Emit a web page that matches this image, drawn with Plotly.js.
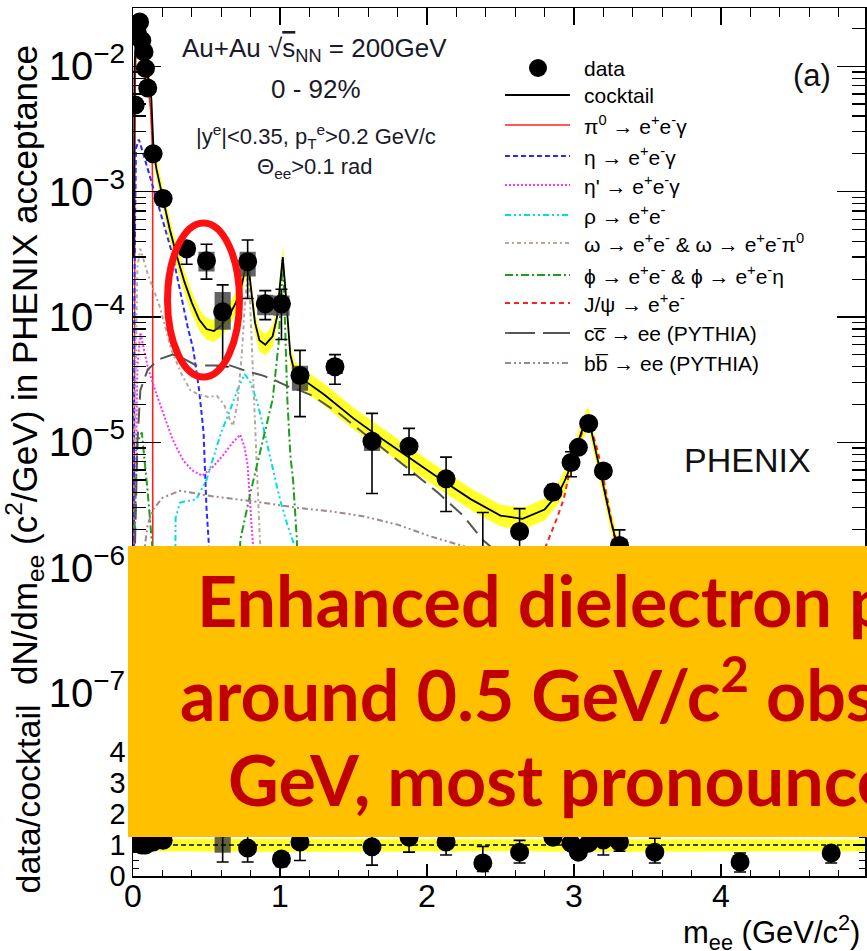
<!DOCTYPE html>
<html><head><meta charset="utf-8">
<script src="https://cdn.plot.ly/plotly-3.0.1.min.js"></script>
<style>html,body{margin:0;padding:0;background:#fff;overflow:hidden}</style></head>
<body><div id="chart" style="width:867px;height:951px"></div>
<script>
// ---------------- data ----------------
const dataX  = [0.015,0.03,0.045,0.06,0.075,0.085,0.10,0.137,0.205,0.365,0.50,0.61,0.78,0.90,1.01,1.136,1.374,1.626,1.878,2.13,2.38,2.63,2.857,2.98,3.03,3.10,3.20,3.31,3.55,4.13,4.75];
const dataY  = [4.9e-3,1.84e-2,2.25e-2,1.6e-2,1.3e-2,9.6e-3,6.7e-3,2.0e-3,8.8e-4,3.5e-4,2.8e-4,1.1e-4,2.75e-4,1.27e-4,1.27e-4,3.4e-5,4.0e-5,1.02e-5,9.3e-6,5.1e-6,1.2e-6,1.94e-6,4.0e-6,6.9e-6,9.1e-6,1.41e-5,5.9e-6,1.5e-6,3.7e-7,1.0e-7,6.6e-8];
const dataHi = [5.0e-3,1.87e-2,2.29e-2,1.63e-2,1.32e-2,9.8e-3,6.85e-3,2.05e-3,9.1e-4,3.8e-4,3.8e-4,1.8e-4,4.1e-4,1.62e-4,1.66e-4,5.4e-5,5.0e-5,1.7e-5,1.29e-5,7.6e-6,2.75e-6,2.95e-6,4.6e-6,8.4e-6,9.8e-6,1.5e-5,6.4e-6,2.0e-6,4.5e-7,1.4e-7,8e-8];
const dataLo = [4.8e-3,1.81e-2,2.21e-2,1.57e-2,1.28e-2,9.4e-3,6.55e-3,1.95e-3,8.5e-4,2.63e-4,2.0e-4,4.0e-5,1.4e-4,9.5e-5,6.6e-5,1.6e-5,2.9e-5,3.9e-6,5.5e-6,2.8e-6,1e-7,1.0e-6,3.5e-6,5.3e-6,8.4e-6,1.32e-5,5.4e-6,1.0e-6,2.9e-7,6e-8,5e-8];
const dataSysHi = [5.1e-3,1.9e-2,2.33e-2,1.66e-2,1.35e-2,1.0e-2,7.0e-3,2.1e-3,9.3e-4,3.9e-4,3.3e-4,1.58e-4,3.3e-4,1.5e-4,1.48e-4,4.07e-5,4.5e-5,1.12e-5,1.0e-5,5.5e-6,1.4e-6,2.1e-6,4.3e-6,7.4e-6,9.6e-6,1.48e-5,6.3e-6,1.7e-6,4.1e-7,1.15e-7,7.3e-8];
const dataSysLo = [4.7e-3,1.78e-2,2.17e-2,1.54e-2,1.25e-2,9.2e-3,6.4e-3,1.9e-3,8.3e-4,3.1e-4,2.3e-4,7.9e-5,2.1e-4,1.03e-4,1.02e-4,2.57e-5,3.5e-5,8.5e-6,8.5e-6,4.6e-6,1.0e-6,1.75e-6,3.7e-6,6.4e-6,8.6e-6,1.34e-5,5.5e-6,1.3e-6,3.3e-7,8.5e-8,6e-8];

const ratioY  = [1.05,1.1,1.05,1.0,1.05,1.0,1.05,1.1,1.15,1.8,3.5,1.55,0.9,2.1,0.55,1.1,2.0,0.94,1.25,1.1,0.42,0.77,1.25,1.06,0.77,1.06,1.16,1.1,0.77,0.45,0.74];
const ratioHi = [1.1,1.15,1.1,1.05,1.1,1.05,1.1,1.15,1.2,1.95,4.6,2.5,1.35,2.7,0.72,1.7,2.4,1.55,1.75,1.6,0.95,1.15,1.4,1.25,0.85,1.12,1.4,1.4,1.22,0.74,0.94];
const ratioLo = [1.0,1.05,1.0,0.95,1.0,0.95,1.0,1.05,1.1,1.38,2.5,0.45,0.45,1.55,0.3,0.5,1.45,0.35,0.77,0.68,0.15,0.42,1.1,0.85,0.7,1.0,0.68,0.8,0.42,0.13,0.42];
const ratioSysHi = [1.08,1.13,1.08,1.03,1.08,1.03,1.08,1.13,1.18,2.0,4.1,2.3,1.05,2.4,0.62,1.3,2.2,1.1,1.35,1.2,0.5,0.85,1.3,1.1,0.8,1.1,1.2,1.15,0.82,0.5,0.8];
const ratioSysLo = [1.02,1.07,1.02,0.97,1.02,0.97,1.02,1.07,1.12,1.6,2.9,0.75,0.75,1.8,0.48,0.9,1.8,0.8,1.15,1.0,0.34,0.7,1.2,1.02,0.74,1.02,1.1,1.05,0.72,0.4,0.68];

const cocktailX = [0.005,0.01,0.02,0.03,0.05,0.07,0.09,0.11,0.125,0.133,0.14,0.16,0.2,0.25,0.3,0.35,0.4,0.45,0.5,0.55,0.6,0.65,0.7,0.74,0.77,0.783,0.8,0.83,0.86,0.9,0.95,0.98,1.0,1.019,1.04,1.07,1.1,1.15,1.3,1.5,1.7,1.9,2.1,2.3,2.5,2.65,2.8,2.9,2.95,3.0,3.05,3.097,3.15,3.2,3.25,3.3,3.4,3.6,3.8,4.0,4.5,5.0];
const cocktailY = [3e-4,9e-3,2.0e-2,2.2e-2,1.75e-2,1.3e-2,1.0e-2,7.5e-3,5.5e-3,3.5e-3,2.1e-3,1.5e-3,9e-4,5e-4,3.0e-4,1.9e-4,1.3e-4,9.5e-5,8e-5,7.7e-5,8.5e-5,1.0e-4,1.3e-4,1.8e-4,2.6e-4,2.8e-4,1.8e-4,9e-5,6.5e-5,6e-5,7e-5,1.0e-4,1.8e-4,3.0e-4,1.5e-4,5e-5,3.6e-5,3.2e-5,2.4e-5,1.55e-5,1.05e-5,7.2e-6,5.0e-6,3.5e-6,2.6e-6,2.45e-6,2.9e-6,4.0e-6,5.3e-6,7.8e-6,1.2e-5,1.6e-5,8.5e-6,4.5e-6,2.4e-6,1.4e-6,6e-7,4.5e-7,3.4e-7,2.6e-7,1.2e-7,6e-8];
const cocktailSysFrac = 0.22;

const ratioBandX  = [0,0.5,1,1.5,2,2.5,3,3.5,4,4.5,5];
const ratioBandLo = [0.8,0.78,0.78,0.78,0.8,0.8,0.78,0.78,0.8,0.8,0.8];
const ratioBandHi = [1.2,1.2,1.18,1.18,1.18,1.18,1.2,1.18,1.18,1.18,1.18];

const pi0X = [0.003,0.008,0.015,0.025,0.04,0.06,0.08,0.1,0.12,0.13,0.134,0.1345];
const pi0Y = [5e-8,3e-5,8e-3,1.9e-2,1.9e-2,1.5e-2,1.1e-2,7.5e-3,4.5e-3,2.5e-3,8e-4,1e-8];
const etaX = [0.005,0.01,0.02,0.04,0.07,0.1,0.14,0.2,0.27,0.33,0.37,0.41,0.45,0.48,0.50,0.52,0.535,0.545,0.547];
const etaY = [1e-7,2e-4,2.2e-3,2.6e-3,2.0e-3,1.5e-3,1.05e-3,6e-4,3.1e-4,1.4e-4,8.5e-5,5.5e-5,2.6e-5,1.2e-5,3e-6,1.3e-6,5e-7,1e-7,1e-9];
const etapX = [0.01,0.03,0.05,0.1,0.15,0.2,0.27,0.34,0.4,0.47,0.54,0.61,0.68,0.73,0.76,0.78,0.81,0.85,0.9,0.95];
const etapY = [1e-6,4e-5,7.5e-5,4e-5,2.6e-5,1.8e-5,1.05e-5,7.2e-6,6e-6,5.4e-6,6.3e-6,7.8e-6,1.0e-5,1.15e-5,9e-6,6.5e-6,1.9e-6,5e-7,1e-7,1e-9];
const rhoX = [0.28,0.29,0.32,0.38,0.43,0.5,0.55,0.6,0.66,0.71,0.76,0.8,0.85,0.885,0.95,1.0,1.05,1.09,1.15,1.25];
const rhoY = [1e-7,2.5e-6,3.3e-6,3.4e-6,3.5e-6,5e-6,7.8e-6,1.2e-5,1.8e-5,2.6e-5,3.5e-5,3.0e-5,2.0e-5,1.35e-5,6.5e-6,3.5e-6,2.2e-6,1.6e-6,1e-6,5e-7];
const omegaX = [0.01,0.03,0.05,0.1,0.18,0.26,0.33,0.39,0.45,0.51,0.57,0.62,0.66,0.68,0.71,0.74,0.76,0.775,0.783,0.79,0.8,0.82,0.84,0.86,0.9];
const omegaY = [1e-5,2.5e-4,3.5e-4,2.2e-4,1.23e-4,5.5e-5,3.5e-5,2.6e-5,2.4e-5,2.3e-5,2.35e-5,2.0e-5,1.5e-5,1.35e-5,2e-5,5e-5,1.2e-4,2.2e-4,2.5e-4,2.0e-4,1.0e-4,3e-5,8.7e-6,2e-6,3e-7];
const phiX = [0.01,0.03,0.06,0.1,0.15,0.2,null,0.7,0.73,0.8,0.885,0.95,0.99,1.01,1.019,1.03,1.05,1.07,1.09,1.115,1.13];
const phiY = [2e-6,1e-5,1.2e-5,4e-6,8e-7,1e-7,null,1e-7,1.66e-6,4e-6,1.05e-5,2.2e-5,6e-5,1.8e-4,2.9e-4,1.3e-4,2.2e-5,8e-6,4.8e-6,1.66e-6,1e-7];
const jpsiX = [2.6,2.7,2.8,2.88,2.93,2.97,3.0,3.04,3.07,3.097,3.12,3.15,3.18,3.21,3.24,3.27,3.29,3.35,3.4];
const jpsiY = [3e-7,7e-7,1.4e-6,2.4e-6,3.5e-6,5.8e-6,7.5e-6,1.05e-5,1.35e-5,1.5e-5,1.25e-5,9.5e-6,6.9e-6,4.5e-6,2.75e-6,1.9e-6,1.5e-6,5e-7,1e-7];
const ccX = [0.01,0.02,0.03,0.05,0.1,0.18,0.27,0.35,0.43,0.55,0.66,0.77,0.885,0.97,1.05,1.13,1.22,1.4,1.565,1.75,1.9,2.07,2.245,2.38,2.6,3.0,3.5,4.0,4.5,5.0];
const ccY = [1e-6,3e-6,1e-5,2.6e-5,3.8e-5,4.6e-5,5.0e-5,4.6e-5,4.1e-5,4.1e-5,4.1e-5,3.7e-5,3.4e-5,3.1e-5,2.8e-5,2.6e-5,2.35e-5,1.7e-5,1.2e-5,8e-6,5.8e-6,4e-6,2.6e-6,1.66e-6,1e-6,4.5e-7,1.8e-7,8e-8,3.5e-8,1.5e-8];
const bbX = [0.02,0.05,0.1,0.136,0.2,0.32,0.54,0.8,1.115,1.35,1.565,1.8,2.02,2.25,2.6,3.0,3.5,4.0,4.5,5.0];
const bbY = [1e-7,8e-7,2.2e-6,2.9e-6,3.6e-6,4.1e-6,3.7e-6,3.4e-6,3.0e-6,2.8e-6,2.57e-6,2.2e-6,1.78e-6,1.48e-6,1.1e-6,7.5e-7,4.5e-7,2.6e-7,1.5e-7,8e-8];

const legendLabels = ["data","cocktail",
  "π<sup>0</sup> → e<sup>+</sup>e<sup>-</sup>γ",
  "η → e<sup>+</sup>e<sup>-</sup>γ",
  "η' → e<sup>+</sup>e<sup>-</sup>γ",
  "ρ → e<sup>+</sup>e<sup>-</sup>",
  "ω → e<sup>+</sup>e<sup>-</sup> &amp; ω → e<sup>+</sup>e<sup>-</sup>π<sup>0</sup>",
  "ϕ → e<sup>+</sup>e<sup>-</sup> &amp; ϕ → e<sup>+</sup>e<sup>-</sup>η",
  "J/ψ → e<sup>+</sup>e<sup>-</sup>",
  "cc\u0305 → ee (PYTHIA)",
  "bb\u0305 → ee (PYTHIA)"];

// ---------------- build ----------------
const FONT = "Liberation Sans, Arial, Helvetica, sans-serif";
const BOXFONT = "Lato, Noto Sans, sans-serif";
function boxPath(xs, lo, hi, dx){
  const X=[],Y=[];
  for(let i=0;i<xs.length;i++){
    X.push(xs[i]-dx,xs[i]+dx,xs[i]+dx,xs[i]-dx,xs[i]-dx,null);
    Y.push(lo[i],lo[i],hi[i],hi[i],lo[i],null);
  }
  return {X,Y};
}
const bandHi = cocktailY.map(v=>v*(1+cocktailSysFrac));
const bandLo = cocktailY.map(v=>v/(1+cocktailSysFrac));
const sysMain = boxPath(dataX, dataSysLo, dataSysHi, 0.055);
const sysRatio = boxPath(dataX, ratioSysLo, ratioSysHi, 0.055);

// styles: [color, dash, width]
const styles = {
  cocktail:['#000000','solid',1.8], pi0:['#ff2020','solid',1.6], eta:['#2a2aff','5px,3px',2],
  etap:['#ff30ff','2px,2px',2], rho:['#00dede','6px,3px,2px,3px,2px,3px',2], omega:['#b4a89c','4px,3px,2px,3px',2],
  phi:['#1e9e1e','8px,3px,2px,3px',2], jpsi:['#ff2020','5px,4px',2], cc:['#555555','16px,8px',2], bb:['#a08888','6px,3px,2px,3px,2px,3px',2]
};
function comp(x,y,key,name){
  const s=styles[key];
  return {type:'scatter',mode:'lines',x:x,y:y,name:name,xaxis:'x2',yaxis:'y',
    line:{color:s[0],dash:s[1],width:s[2]},connectgaps:false,hoverinfo:'skip',showlegend:false};
}

const traces = [
  {type:'scatter',mode:'lines',x:cocktailX,y:bandLo,xaxis:'x2',yaxis:'y',line:{width:0,color:'#ffff33'},showlegend:false,hoverinfo:'skip'},
  {type:'scatter',mode:'lines',x:cocktailX,y:bandHi,xaxis:'x2',yaxis:'y',fill:'tonexty',fillcolor:'#ffff2a',line:{width:0,color:'#ffff33'},showlegend:false,hoverinfo:'skip'},
  comp(pi0X,pi0Y,'pi0',legendLabels[2]),
  comp(etaX,etaY,'eta',legendLabels[3]),
  comp(etapX,etapY,'etap',legendLabels[4]),
  comp(rhoX,rhoY,'rho',legendLabels[5]),
  comp(omegaX,omegaY,'omega',legendLabels[6]),
  comp(phiX,phiY,'phi',legendLabels[7]),
  comp(jpsiX,jpsiY,'jpsi',legendLabels[8]),
  comp(ccX,ccY,'cc',legendLabels[9]),
  comp(bbX,bbY,'bb',legendLabels[10]),
  comp(cocktailX,cocktailY,'cocktail',legendLabels[1]),
  {type:'scatter',mode:'lines',x:sysMain.X,y:sysMain.Y,xaxis:'x2',yaxis:'y',fill:'toself',fillcolor:'rgba(60,60,60,0.8)',line:{width:0},connectgaps:false,showlegend:false,hoverinfo:'skip'},
  {type:'scatter',mode:'markers',x:dataX,y:dataY,name:legendLabels[0],xaxis:'x2',yaxis:'y',showlegend:false,
    marker:{color:'#000',size:19,symbol:'circle'},
    error_y:{type:'data',symmetric:false,array:dataHi.map((v,i)=>v-dataY[i]),arrayminus:dataLo.map((v,i)=>dataY[i]-v),color:'#000',thickness:1.6,width:6}},
  // ratio panel
  {type:'scatter',mode:'lines',x:ratioBandX,y:ratioBandLo,xaxis:'x',yaxis:'y2',line:{width:0,color:'#ffff33'},showlegend:false,hoverinfo:'skip'},
  {type:'scatter',mode:'lines',x:ratioBandX,y:ratioBandHi,xaxis:'x',yaxis:'y2',fill:'tonexty',fillcolor:'#ffff2a',line:{width:0,color:'#ffff33'},showlegend:false,hoverinfo:'skip'},
  {type:'scatter',mode:'lines',x:sysRatio.X,y:sysRatio.Y,xaxis:'x',yaxis:'y2',fill:'toself',fillcolor:'rgba(60,60,60,0.8)',line:{width:0},connectgaps:false,showlegend:false,hoverinfo:'skip'},
  {type:'scatter',mode:'markers',x:dataX,y:ratioY,xaxis:'x',yaxis:'y2',showlegend:false,
    marker:{color:'#000',size:19,symbol:'circle'},
    error_y:{type:'data',symmetric:false,array:ratioHi.map((v,i)=>v-ratioY[i]),arrayminus:ratioLo.map((v,i)=>ratioY[i]-v),color:'#000',thickness:1.6,width:6}}
];

const W=867,H=951,L=133,R=2,T=8,B=75;
const pw=W-L-R, ph=H-T-B;
const split=(876-722)/ph;
const px=x=>(x-L)/pw, py=y=>(876-y)/ph;

const axCommon = {showline:true,linecolor:'#000',linewidth:1.5,showgrid:false,zeroline:false,ticks:'inside',tickcolor:'#000',tickwidth:1.3,mirror:'ticks'};

// legend drawn as layout decoration
const legendRowsY = [68,95,125,156,185,215,243,275,303,333,363];
const legendKeys = ['data','cocktail','pi0','eta','etap','rho','omega','phi','jpsi','cc','bb'];
const legendShapes = [], legendAnn = [];
legendKeys.forEach((k,i)=>{
  const yy = py(legendRowsY[i]);
  if(k==='data'){
    legendShapes.push({type:'circle',xref:'paper',yref:'paper',x0:px(529),x1:px(547),y0:py(legendRowsY[i]+9),y1:py(legendRowsY[i]-9),fillcolor:'#000',line:{width:0}});
  } else {
    const s=styles[k];
    legendShapes.push({type:'line',xref:'paper',yref:'paper',x0:px(505),x1:px(570),y0:yy,y1:yy,line:{color:s[0],dash:k==='cc'?'30px,8px':s[1],width:Math.min(s[2],1.8)}});
  }
  legendAnn.push({xref:'paper',yref:'paper',x:px(582),y:yy,xanchor:'left',yanchor:'middle',text:legendLabels[i],showarrow:false,font:{size:21,family:FONT,color:'#000'}});
});

const layout = {
  width:W,height:H,margin:{l:L,r:R,t:T,b:B},
  paper_bgcolor:'#fff',plot_bgcolor:'#fff',
  font:{family:FONT,color:'#000'},
  showlegend:false,
  xaxis:Object.assign({},axCommon,{domain:[0,1],anchor:'y2',range:[0,4.98],dtick:1,tick0:0,ticklen:12,tickfont:{size:32,family:FONT},ticklabelstandoff:-9,
     minor:{dtick:0.2,ticks:'inside',ticklen:6,tickcolor:'#000',tickwidth:1.2}}),
  xaxis2:Object.assign({},axCommon,{domain:[0,1],anchor:'y',matches:'x',range:[0,4.98],dtick:1,tick0:0,ticklen:17,showticklabels:false,
     minor:{dtick:0.2,ticks:'inside',ticklen:9,tickcolor:'#000',tickwidth:1.2}}),
  yaxis:Object.assign({},axCommon,{domain:[split,1],anchor:'x2',type:'log',range:[-7.232,-1.536],dtick:1,exponentformat:'power',showexponent:'all',
     ticklen:28,tickfont:{size:32,family:FONT},
     minor:{dtick:'D1',ticks:'inside',ticklen:13,tickcolor:'#000',tickwidth:1.2},
     title:{text:'dN/dm<sub>ee</sub> (c<sup>2</sup>/GeV) in PHENIX acceptance',font:{size:35,family:FONT},standoff:4}}),
  yaxis2:Object.assign({},axCommon,{domain:[0,split],anchor:'x',range:[0,4.97],dtick:1,tick0:0,ticklen:12,tickfont:{size:29,family:FONT},
     minor:{dtick:0.25,ticks:'inside',ticklen:6,tickcolor:'#000',tickwidth:1.2},
     title:{text:'data/cocktail',font:{size:34,family:FONT},standoff:58}}),
  shapes:[
    {type:'line',xref:'x',yref:'y2',x0:0,x1:4.98,y0:1,y1:1,line:{color:'#000',width:1.4,dash:'5px,3px'}},
    ...legendShapes,
    {type:'circle',xref:'paper',yref:'paper',x0:px(167.5),x1:px(239.5),y0:py(377),y1:py(223),line:{color:'#ff1010',width:7},layer:'above'},
    {type:'rect',xref:'paper',yref:'paper',x0:px(128),x1:1.2,y0:py(837),y1:py(546),fillcolor:'#ffc000',line:{width:0},layer:'above'}
  ],
  annotations:[
    {xref:'paper',yref:'paper',x:px(314),y:py(50),xanchor:'center',yanchor:'middle',text:'Au+Au √<span style="text-decoration:overline">s</span><sub>NN</sub> = 200GeV',showarrow:false,font:{size:26,family:FONT,color:'#1a1a2a'}},
    {xref:'paper',yref:'paper',x:px(316),y:py(89),xanchor:'center',yanchor:'middle',text:'0 - 92%',showarrow:false,font:{size:26,family:FONT,color:'#1a1a2a'}},
    {xref:'paper',yref:'paper',x:px(316),y:py(136),xanchor:'center',yanchor:'middle',text:'|y<sup>e</sup>|&lt;0.35, p<sub>T</sub><sup>e</sup>&gt;0.2 GeV/c',showarrow:false,font:{size:22,family:FONT,color:'#1a1a2a'}},
    {xref:'paper',yref:'paper',x:px(315),y:py(168),xanchor:'center',yanchor:'middle',text:'Θ<sub>ee</sub>&gt;0.1 rad',showarrow:false,font:{size:22,family:FONT,color:'#1a1a2a'}},
    {xref:'paper',yref:'paper',x:px(812),y:py(75),xanchor:'center',yanchor:'middle',text:'(a)',showarrow:false,font:{size:31,family:FONT,color:'#111'}},
    {xref:'paper',yref:'paper',x:px(747),y:py(460),xanchor:'center',yanchor:'middle',text:'PHENIX',showarrow:false,font:{size:34,family:FONT,color:'#111'}},
    {xref:'paper',yref:'paper',x:px(862),xanchor:'right',y:py(933),yanchor:'middle',text:'m<sub>ee</sub> (GeV/c<sup>2</sup>)',showarrow:false,font:{size:31,family:FONT,color:'#000'}},
    ...legendAnn,
    {xref:'paper',yref:'paper',x:px(195),xanchor:'left',y:py(600),yanchor:'middle',text:'<b>Enhanced dielectron production</b>',showarrow:false,font:{size:70,family:BOXFONT,color:'#c00000'}},
    {xref:'paper',yref:'paper',x:px(178),xanchor:'left',y:py(690),yanchor:'middle',text:'<b>around 0.5 GeV/c<sup>2</sup> observed at 200</b>',showarrow:false,font:{size:70,family:BOXFONT,color:'#c00000'}},
    {xref:'paper',yref:'paper',x:px(226),xanchor:'left',y:py(779),yanchor:'middle',text:'<b>GeV, most pronounced in central</b>',showarrow:false,font:{size:70,family:BOXFONT,color:'#c00000'}}
  ]
};

Plotly.newPlot('chart',traces,layout,{staticPlot:true,displayModeBar:false});
</script></body></html>
